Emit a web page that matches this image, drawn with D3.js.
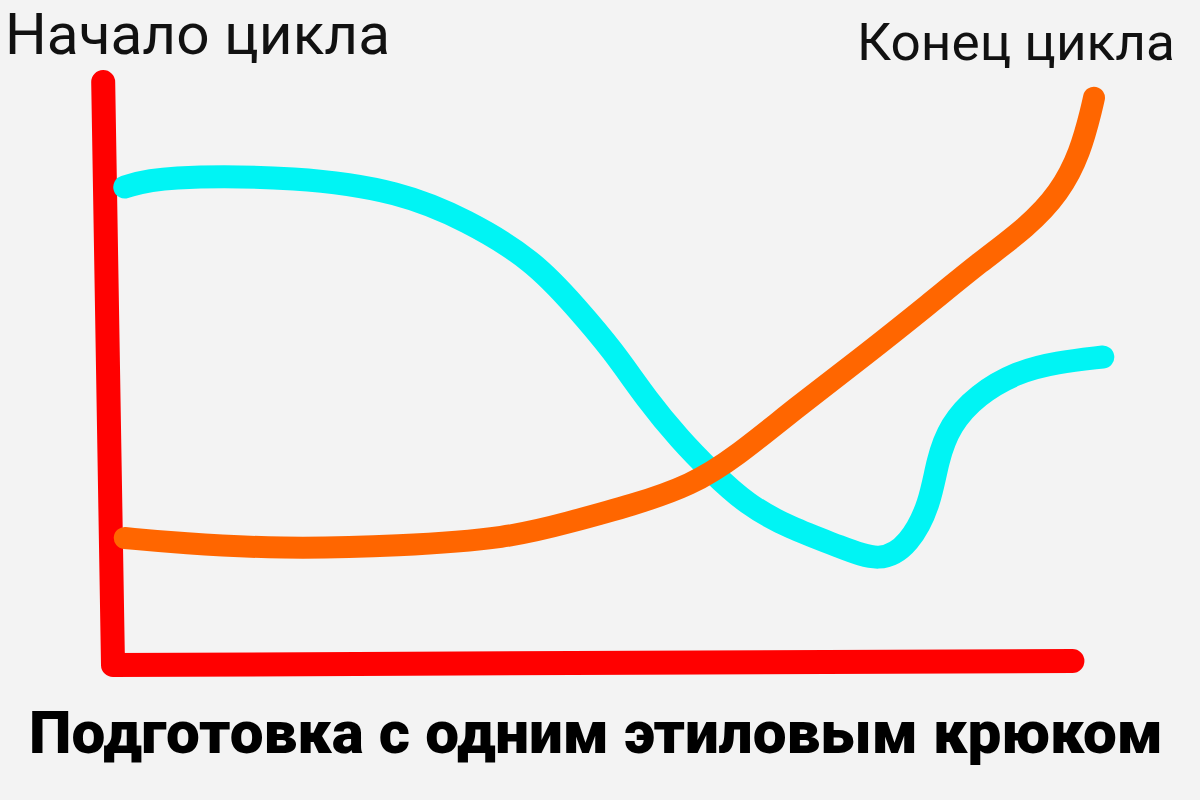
<!DOCTYPE html>
<html>
<head>
<meta charset="utf-8">
<script src="https://cdn.jsdelivr.net/npm/d3@7"></script>
<style>
  html, body { margin: 0; padding: 0; background: #f3f3f3; }
  #chart { width: 1200px; height: 800px; }
</style>
</head>
<body>
<div id="chart"></div>
<script>
// Hand-drawn sketch, values in arbitrary units (0..100 on both axes)
var labelStart = "Начало цикла"
var labelEnd = "Конец цикла"
var title = "Подготовка с одним этиловым крюком"

// Cyan curve
var cyanX = [1.2, 4.8, 19.1, 29.3, 36.1, 42.9, 47.3, 51.0, 54.5, 57.9, 60.9, 64.7, 69.1, 74.2, 78.3, 81.3, 83.4, 84.1, 85.4, 88.2, 92.2, 96.3, 101.0]
var cyanY = [82.4, 84.3, 84.2, 81.6, 76.7, 69.8, 61.6, 54.3, 45.7, 38.8, 33.6, 27.6, 23.6, 20.4, 17.6, 20.8, 27.9, 35.2, 41.4, 46.6, 50.5, 52.2, 53.1]

// Orange curve
var orangeX = [1.2, 6.8, 17.0, 29.3, 40.5, 46.3, 53.1, 59.0, 63.5, 69.8, 76.5, 83.4, 88.5, 93.3, 96.6, 98.7, 99.9, 100.1]
var orangeY = [21.9, 21.0, 20.0, 20.5, 21.9, 24.5, 27.6, 31.0, 35.8, 44.5, 53.1, 62.4, 69.5, 75.5, 81.4, 88.3, 96.2, 97.8]

// Axes, drawn by hand (slightly tilted)
var axisX = [-1.0, 0, 97.9]
var axisY = [100.5, 0, 0.7]

var zip = function (xs, ys) {
  return xs.map(function (x, i) { return [x, ys[i]] })
}

var width = 1200
var height = 800

var svg = d3
  .select("#chart")
  .append("svg")
  .attr("width", width)
  .attr("height", height)

svg.append("rect")
  .attr("width", width)
  .attr("height", height)
  .attr("fill", "#f3f3f3")

var x = d3.scaleLinear().domain([0, 100]).range([113, 1093])
var y = d3.scaleLinear().domain([0, 100]).range([665, 85])

// smooth marker strokes
var line = d3
  .line()
  .x((d) => x(d[0]))
  .y((d) => y(d[1]))
  .curve(d3.curveBasis)

var axisLine = d3
  .line()
  .x((d) => x(d[0]))
  .y((d) => y(d[1]))

// Red axes
svg.append("path")
  .attr("d", axisLine(zip(axisX, axisY)))
  .attr("fill", "none")
  .attr("stroke", "#ff0000")
  .attr("stroke-width", 24)
  .attr("stroke-linecap", "round")
  .attr("stroke-linejoin", "round")

// Cyan below, orange on top
svg.append("path")
  .attr("d", line(zip(cyanX, cyanY)))
  .attr("fill", "none")
  .attr("stroke", "#00f4f4")
  .attr("stroke-width", 23)
  .attr("stroke-linecap", "round")
  .attr("stroke-linejoin", "round")

svg.append("path")
  .attr("d", line(zip(orangeX, orangeY)))
  .attr("fill", "none")
  .attr("stroke", "#ff6600")
  .attr("stroke-width", 22)
  .attr("stroke-linecap", "round")
  .attr("stroke-linejoin", "round")

// Labels
svg.append("text")
  .attr("x", 5)
  .attr("y", 54)
  .attr("font-family", "Roboto, 'Noto Sans', sans-serif")
  .attr("font-size", 58)
  .attr("fill", "#111")
  .attr("textLength", 385)
  .attr("lengthAdjust", "spacingAndGlyphs")
  .text(labelStart)

svg.append("text")
  .attr("x", 857)
  .attr("y", 60)
  .attr("font-family", "Roboto, 'Noto Sans', sans-serif")
  .attr("font-size", 52)
  .attr("fill", "#111")
  .attr("textLength", 318)
  .attr("lengthAdjust", "spacingAndGlyphs")
  .text(labelEnd)

svg.append("text")
  .attr("x", 29)
  .attr("y", 753)
  .attr("font-family", "Roboto, 'Noto Sans', sans-serif")
  .attr("font-weight", 900)
  .attr("font-size", 59)
  .attr("fill", "#000")
  .attr("textLength", 1134)
  .attr("lengthAdjust", "spacingAndGlyphs")
  .text(title)
</script>
</body>
</html>
